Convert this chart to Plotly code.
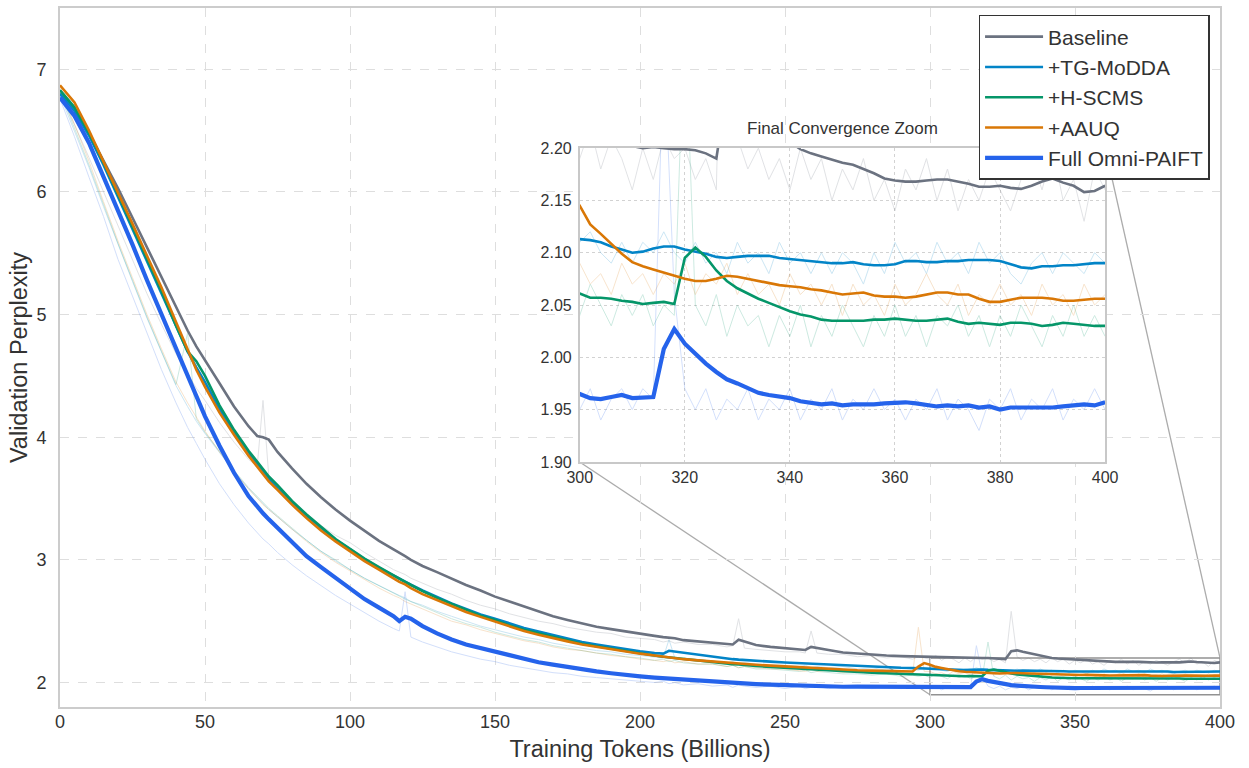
import plotly.graph_objects as go

# ---------------- data ----------------
X_MAIN = [0, 5, 10, 15, 20, 25, 30, 35, 40, 44,
          47, 50, 55, 60, 65, 68, 70, 72, 75, 80,
          85, 90, 95, 100, 105, 110, 115, 117, 119, 121,
          125, 130, 135, 140, 145, 150, 155, 160, 165, 170,
          175, 180, 185, 190, 195, 200, 205, 208, 210, 212,
          215, 220, 225, 230, 232, 234, 236, 240, 245, 250,
          255, 257, 259, 261, 265, 270, 275, 280, 285, 290,
          294, 296, 298]
X_ZOOM = [300, 302, 304, 306, 308, 310, 312, 314, 316, 318,
          320, 322, 324, 326, 328, 330, 332, 334, 336, 338,
          340, 342, 344, 346, 348, 350, 352, 354, 356, 358,
          360, 362, 364, 366, 368, 370, 372, 374, 376, 378,
          380, 382, 384, 386, 388, 390, 392, 394, 396, 398,
          400]

SERIES_NAMES = ["Baseline", "+TG-MoDDA", "+H-SCMS", "+AAUQ", "Full Omni-PAIFT"]

# smoothed curves (main range)
BASE_SMOOTH_MAIN = [6.80, 6.68, 6.48, 6.26, 6.03, 5.79, 5.55, 5.30, 5.06, 4.87,
                    4.74, 4.63, 4.44, 4.25, 4.09, 4.01, 4.00, 3.98, 3.88, 3.745,
                    3.62, 3.51, 3.41, 3.32, 3.235, 3.155, 3.085, 3.06, 3.03, 3.00,
                    2.95, 2.90, 2.845, 2.795, 2.75, 2.70, 2.66, 2.62, 2.575, 2.54,
                    2.51, 2.48, 2.455, 2.435, 2.415, 2.40, 2.38, 2.37, 2.365, 2.36,
                    2.345, 2.335, 2.325, 2.312, 2.31, 2.348, 2.335, 2.305, 2.29, 2.28,
                    2.265, 2.265, 2.29, 2.283, 2.265, 2.245, 2.235, 2.225, 2.22, 2.215,
                    2.212, 2.21, 2.208]
TG_SMOOTH_MAIN = [6.80, 6.66, 6.46, 6.22, 5.96, 5.70, 5.44, 5.17, 4.91, 4.70,
                  4.57, 4.45, 4.23, 4.04, 3.87, 3.78, 3.72, 3.66, 3.58, 3.465,
                  3.36, 3.26, 3.165, 3.085, 3.005, 2.935, 2.87, 2.845, 2.82, 2.797,
                  2.75, 2.695, 2.645, 2.60, 2.555, 2.52, 2.48, 2.445, 2.415, 2.385,
                  2.355, 2.33, 2.31, 2.29, 2.27, 2.255, 2.24, 2.235, 2.258, 2.252,
                  2.24, 2.222, 2.207, 2.195, 2.19, 2.186, 2.182, 2.176, 2.17, 2.163,
                  2.157, 2.155, 2.152, 2.15, 2.145, 2.14, 2.136, 2.132, 2.125, 2.12,
                  2.118, 2.116, 2.114]
HS_SMOOTH_MAIN = [6.83, 6.69, 6.48, 6.24, 5.98, 5.72, 5.46, 5.19, 4.91, 4.70,
                  4.62, 4.50, 4.26, 4.06, 3.89, 3.80, 3.74, 3.68, 3.61, 3.48,
                  3.37, 3.27, 3.17, 3.09, 3.01, 2.94, 2.87, 2.845, 2.82, 2.795,
                  2.745, 2.69, 2.64, 2.59, 2.545, 2.51, 2.465, 2.43, 2.40, 2.37,
                  2.34, 2.315, 2.295, 2.275, 2.255, 2.235, 2.22, 2.21, 2.205, 2.20,
                  2.19, 2.175, 2.165, 2.155, 2.15, 2.147, 2.145, 2.135, 2.127, 2.12,
                  2.11, 2.108, 2.105, 2.103, 2.097, 2.09, 2.085, 2.08, 2.075, 2.07,
                  2.066, 2.065, 2.063]
AA_SMOOTH_MAIN = [6.87, 6.73, 6.50, 6.25, 6.00, 5.74, 5.48, 5.22, 4.94, 4.71,
                  4.55, 4.41, 4.20, 4.02, 3.85, 3.76, 3.70, 3.64, 3.57, 3.45,
                  3.34, 3.24, 3.15, 3.07, 2.99, 2.92, 2.85, 2.82, 2.80, 2.77,
                  2.72, 2.67, 2.62, 2.575, 2.535, 2.495, 2.455, 2.42, 2.39, 2.36,
                  2.335, 2.31, 2.29, 2.27, 2.25, 2.235, 2.22, 2.21, 2.205, 2.20,
                  2.19, 2.18, 2.17, 2.16, 2.157, 2.153, 2.15, 2.145, 2.137, 2.13,
                  2.122, 2.12, 2.117, 2.115, 2.11, 2.105, 2.10, 2.097, 2.094, 2.092,
                  2.09, 2.13, 2.158]
FULL_SMOOTH_MAIN = [6.77, 6.62, 6.40, 6.13, 5.85, 5.57, 5.28, 5.00, 4.72, 4.50,
                    4.33, 4.17, 3.93, 3.71, 3.52, 3.43, 3.38, 3.33, 3.26, 3.14,
                    3.03, 2.94, 2.85, 2.76, 2.68, 2.61, 2.54, 2.50, 2.535, 2.52,
                    2.46, 2.40, 2.35, 2.31, 2.28, 2.25, 2.22, 2.19, 2.165, 2.145,
                    2.125, 2.105, 2.09, 2.075, 2.06, 2.05, 2.04, 2.035, 2.03, 2.027,
                    2.02, 2.012, 2.005, 1.998, 1.995, 1.993, 1.99, 1.987, 1.982, 1.978,
                    1.973, 1.972, 1.968, 1.967, 1.966, 1.965, 1.966, 1.965, 1.963, 1.962,
                    1.962, 1.964, 1.963]

# smoothed curves (final 100B tokens)
BASE_SMOOTH_ZOOM = [2.207, 2.205, 2.205, 2.204, 2.203, 2.202, 2.200, 2.201, 2.200, 2.199,
                    2.199, 2.198, 2.195, 2.190, 2.255, 2.262, 2.250, 2.240, 2.228, 2.217,
                    2.206, 2.199, 2.195, 2.192, 2.189, 2.186, 2.184, 2.180, 2.176, 2.171,
                    2.169, 2.168, 2.168, 2.169, 2.170, 2.170, 2.168, 2.166, 2.163, 2.163,
                    2.164, 2.162, 2.161, 2.164, 2.168, 2.171, 2.167, 2.164, 2.158, 2.159,
                    2.164]
TG_SMOOTH_ZOOM = [2.113, 2.112, 2.110, 2.106, 2.103, 2.100, 2.101, 2.104, 2.106, 2.106,
                  2.103, 2.101, 2.099, 2.096, 2.095, 2.096, 2.097, 2.097, 2.097, 2.095,
                  2.094, 2.093, 2.092, 2.091, 2.090, 2.090, 2.091, 2.089, 2.088, 2.088,
                  2.089, 2.092, 2.092, 2.091, 2.091, 2.092, 2.092, 2.093, 2.093, 2.093,
                  2.092, 2.089, 2.086, 2.085, 2.087, 2.087, 2.088, 2.088, 2.089, 2.090,
                  2.090]
HS_SMOOTH_ZOOM = [2.061, 2.057, 2.057, 2.056, 2.054, 2.053, 2.051, 2.052, 2.053, 2.051,
                  2.095, 2.105, 2.096, 2.083, 2.073, 2.066, 2.061, 2.056, 2.052, 2.048,
                  2.044, 2.041, 2.039, 2.036, 2.035, 2.035, 2.035, 2.035, 2.036, 2.036,
                  2.037, 2.036, 2.035, 2.035, 2.036, 2.037, 2.034, 2.032, 2.033, 2.032,
                  2.031, 2.033, 2.033, 2.032, 2.030, 2.031, 2.033, 2.032, 2.031, 2.030,
                  2.030]
AA_SMOOTH_ZOOM = [2.145, 2.127, 2.118, 2.108, 2.099, 2.091, 2.087, 2.084, 2.081, 2.078,
                  2.075, 2.073, 2.073, 2.075, 2.078, 2.077, 2.075, 2.073, 2.071, 2.069,
                  2.068, 2.067, 2.065, 2.064, 2.062, 2.060, 2.061, 2.062, 2.059, 2.058,
                  2.058, 2.057, 2.058, 2.060, 2.062, 2.062, 2.060, 2.060, 2.056, 2.053,
                  2.053, 2.055, 2.057, 2.057, 2.057, 2.056, 2.054, 2.054, 2.055, 2.056,
                  2.056]
FULL_SMOOTH_ZOOM = [1.965, 1.961, 1.960, 1.962, 1.964, 1.961, 1.962, 1.962, 2.008, 2.027,
                    2.013, 2.003, 1.994, 1.986, 1.979, 1.975, 1.970, 1.966, 1.964, 1.963,
                    1.961, 1.958, 1.957, 1.955, 1.956, 1.954, 1.955, 1.955, 1.955, 1.956,
                    1.957, 1.957, 1.956, 1.954, 1.953, 1.954, 1.953, 1.954, 1.952, 1.953,
                    1.950, 1.952, 1.952, 1.951, 1.952, 1.952, 1.953, 1.954, 1.955, 1.954,
                    1.957]

# raw (unsmoothed) curves (main range)
BASE_RAW_MAIN = [6.80, 6.55, 6.28, 6.00, 5.72, 5.44, 5.17, 4.92, 4.68, 4.52,
                 4.40, 4.30, 4.12, 3.96, 3.82, 3.76, 4.30, 3.68, 3.60, 3.48,
                 3.38, 3.28, 3.20, 3.14, 3.06, 2.99, 2.92, 2.90, 2.88, 2.85,
                 2.81, 2.76, 2.72, 2.67, 2.63, 2.60, 2.56, 2.53, 2.50, 2.48,
                 2.45, 2.43, 2.41, 2.40, 2.37, 2.36, 2.35, 2.33, 2.34, 2.32,
                 2.33, 2.31, 2.31, 2.29, 2.30, 2.52, 2.28, 2.27, 2.26, 2.25,
                 2.25, 2.24, 2.42, 2.24, 2.23, 2.23, 2.21, 2.22, 2.20, 2.21,
                 2.19, 2.21, 2.20]
TG_RAW_MAIN = [6.79, 6.50, 6.20, 5.88, 5.57, 5.27, 4.97, 4.69, 4.42, 4.25,
               4.13, 4.03, 3.87, 3.72, 3.58, 3.51, 3.46, 3.41, 3.35, 3.25,
               3.16, 3.07, 2.99, 2.92, 2.85, 2.79, 2.73, 2.71, 2.69, 2.66,
               2.63, 2.58, 2.54, 2.50, 2.46, 2.43, 2.40, 2.37, 2.35, 2.32,
               2.30, 2.28, 2.26, 2.25, 2.23, 2.22, 2.21, 2.20, 2.35, 2.20,
               2.19, 2.18, 2.17, 2.16, 2.17, 2.15, 2.16, 2.15, 2.14, 2.14,
               2.13, 2.14, 2.12, 2.13, 2.12, 2.13, 2.11, 2.12, 2.10, 2.12,
               2.11, 2.10, 2.12]
HS_RAW_MAIN = [6.82, 6.52, 6.22, 5.90, 5.58, 5.28, 4.98, 4.70, 4.43, 4.85,
               4.15, 4.04, 3.88, 3.73, 3.59, 3.52, 3.47, 3.42, 3.36, 3.26,
               3.16, 3.07, 3.00, 2.92, 2.85, 2.79, 2.73, 2.70, 2.68, 2.66,
               2.62, 2.57, 2.52, 2.48, 2.45, 2.41, 2.38, 2.35, 2.33, 2.30,
               2.28, 2.26, 2.24, 2.23, 2.21, 2.20, 2.18, 2.19, 2.17, 2.18,
               2.16, 2.15, 2.15, 2.13, 2.14, 2.12, 2.13, 2.11, 2.11, 2.10,
               2.09, 2.10, 2.08, 2.09, 2.08, 2.07, 2.07, 2.06, 2.07, 2.05,
               2.06, 2.05, 2.06]
AA_RAW_MAIN = [6.85, 6.55, 6.25, 5.92, 5.60, 5.30, 5.00, 4.72, 4.45, 4.28,
               4.16, 4.05, 3.88, 3.72, 3.58, 3.50, 3.45, 3.41, 3.35, 3.25,
               3.15, 3.06, 2.98, 2.91, 2.84, 2.77, 2.71, 2.69, 2.66, 2.64,
               2.60, 2.55, 2.50, 2.47, 2.43, 2.40, 2.37, 2.34, 2.32, 2.29,
               2.27, 2.26, 2.24, 2.22, 2.21, 2.19, 2.18, 2.17, 2.18, 2.16,
               2.17, 2.15, 2.15, 2.13, 2.14, 2.12, 2.13, 2.12, 2.11, 2.11,
               2.10, 2.09, 2.11, 2.09, 2.10, 2.08, 2.09, 2.07, 2.09, 2.08,
               2.07, 2.45, 2.09]
FULL_RAW_MAIN = [6.76, 6.45, 6.12, 5.80, 5.45, 5.15, 4.85, 4.55, 4.28, 4.08,
                 3.95, 3.82, 3.62, 3.45, 3.30, 3.22, 3.17, 3.13, 3.06, 2.96,
                 2.87, 2.79, 2.71, 2.64, 2.57, 2.50, 2.44, 2.42, 2.74, 2.37,
                 2.33, 2.29, 2.25, 2.22, 2.19, 2.17, 2.14, 2.12, 2.10, 2.08,
                 2.07, 2.05, 2.04, 2.03, 2.02, 2.01, 2.00, 2.01, 1.99, 2.00,
                 1.98, 1.99, 1.97, 1.98, 1.96, 1.98, 1.97, 1.96, 1.97, 1.95,
                 1.97, 1.95, 1.96, 1.97, 1.95, 1.97, 1.96, 1.95, 1.97, 1.95,
                 1.96, 1.97, 1.95]

# raw (unsmoothed) curves (final 100B tokens)
BASE_RAW_ZOOM = [2.19, 2.22, 2.18, 2.21, 2.19, 2.16, 2.20, 2.17, 2.21, 2.19,
                 2.20, 2.17, 2.19, 2.16, 2.58, 2.21, 2.18, 2.20, 2.17, 2.19,
                 2.16, 2.20, 2.17, 2.19, 2.15, 2.18, 2.16, 2.19, 2.15, 2.17,
                 2.14, 2.18, 2.16, 2.19, 2.15, 2.18, 2.14, 2.17, 2.15, 2.18,
                 2.16, 2.14, 2.17, 2.19, 2.16, 2.20, 2.15, 2.17, 2.13, 2.18,
                 2.16]
TG_RAW_ZOOM = [2.11, 2.12, 2.10, 2.09, 2.11, 2.09, 2.11, 2.10, 2.12, 2.10,
               2.09, 2.11, 2.09, 2.10, 2.08, 2.11, 2.09, 2.10, 2.08, 2.11,
               2.09, 2.10, 2.08, 2.10, 2.08, 2.10, 2.09, 2.07, 2.10, 2.08,
               2.11, 2.09, 2.10, 2.08, 2.11, 2.09, 2.10, 2.08, 2.11, 2.09,
               2.10, 2.08, 2.07, 2.09, 2.10, 2.08, 2.10, 2.09, 2.08, 2.10,
               2.09]
HS_RAW_ZOOM = [2.04, 2.07, 2.05, 2.03, 2.06, 2.04, 2.06, 2.03, 2.05, 2.04,
               2.33, 2.05, 2.03, 2.06, 2.02, 2.05, 2.03, 2.04, 2.01, 2.04,
               2.02, 2.05, 2.01, 2.04, 2.02, 2.05, 2.03, 2.01, 2.04, 2.02,
               2.05, 2.02, 2.04, 2.01, 2.04, 2.03, 2.05, 2.02, 2.04, 2.01,
               2.04, 2.02, 2.05, 2.03, 2.01, 2.04, 2.02, 2.05, 2.02, 2.04,
               2.02]
AA_RAW_ZOOM = [2.09, 2.07, 2.08, 2.06, 2.09, 2.07, 2.08, 2.06, 2.08, 2.07,
               2.09, 2.06, 2.08, 2.07, 2.09, 2.06, 2.08, 2.06, 2.07, 2.05,
               2.08, 2.06, 2.07, 2.05, 2.07, 2.04, 2.07, 2.05, 2.06, 2.04,
               2.07, 2.05, 2.06, 2.08, 2.06, 2.05, 2.07, 2.04, 2.06, 2.05,
               2.07, 2.05, 2.06, 2.04, 2.07, 2.05, 2.06, 2.04, 2.07, 2.05,
               2.06]
FULL_RAW_ZOOM = [1.95, 1.97, 1.94, 1.96, 1.97, 1.95, 1.97, 1.96, 2.30, 2.06,
                 1.97, 1.95, 1.97, 1.94, 1.96, 1.95, 1.97, 1.94, 1.96, 1.95,
                 1.97, 1.94, 1.96, 1.95, 1.97, 1.94, 1.96, 1.95, 1.97, 1.95,
                 1.96, 1.94, 1.96, 1.95, 1.97, 1.94, 1.96, 1.95, 1.93, 1.96,
                 1.95, 1.97, 1.94, 1.96, 1.95, 1.97, 1.94, 1.96, 1.95, 1.97,
                 1.95]

MAIN_X_TICKS = [0, 50, 100, 150, 200, 250, 300, 350, 400]
MAIN_Y_TICKS = [2, 3, 4, 5, 6, 7]
ZOOM_X_TICKS = [300, 320, 340, 360, 380, 400]
ZOOM_Y_TICKS = [1.90, 1.95, 2.00, 2.05, 2.10, 2.15, 2.20]
ZOOM_Y_LABELS = ["1.90", "1.95", "2.00", "2.05", "2.10", "2.15", "2.20"]

# ---------------- style ----------------
FONT = "Liberation Sans, Arial, sans-serif"
TXT = "#333333"
COLORS = ["#6b7280", "#0284c7", "#059669", "#d97706", "#2563eb"]
WIDTHS = [2.6, 2.6, 2.6, 2.6, 4.2]

XR = [0, 400]
YR = [1.8, 7.5]
ZX = [300, 400]
ZY = [1.90, 2.20]
INSET_DX = [0.448, 0.901]
INSET_DY = [0.3505, 0.7997]

smooth = [
    (BASE_SMOOTH_MAIN, BASE_SMOOTH_ZOOM, BASE_RAW_MAIN, BASE_RAW_ZOOM),
    (TG_SMOOTH_MAIN, TG_SMOOTH_ZOOM, TG_RAW_MAIN, TG_RAW_ZOOM),
    (HS_SMOOTH_MAIN, HS_SMOOTH_ZOOM, HS_RAW_MAIN, HS_RAW_ZOOM),
    (AA_SMOOTH_MAIN, AA_SMOOTH_ZOOM, AA_RAW_MAIN, AA_RAW_ZOOM),
    (FULL_SMOOTH_MAIN, FULL_SMOOTH_ZOOM, FULL_RAW_MAIN, FULL_RAW_ZOOM),
]

X_ALL = X_MAIN + X_ZOOM

fig = go.Figure()

# raw faint lines
for axes in [("x", "y"), ("x2", "y2")]:
    for i, (sm, sz, rm, rz) in enumerate(smooth):
        fig.add_trace(go.Scatter(
            x=X_ALL, y=rm + rz, mode="lines", xaxis=axes[0], yaxis=axes[1],
            line=dict(color=COLORS[i], width=1), opacity=0.2,
            showlegend=False, hoverinfo="skip"))

# smoothed lines
for axes in [("x", "y"), ("x2", "y2")]:
    for i, (sm, sz, rm, rz) in enumerate(smooth):
        fig.add_trace(go.Scatter(
            x=X_ALL, y=sm + sz, mode="lines", xaxis=axes[0], yaxis=axes[1],
            name=SERIES_NAMES[i], legendgroup=SERIES_NAMES[i],
            line=dict(color=COLORS[i], width=WIDTHS[i]),
            showlegend=(axes[0] == "x")))


def main_x(p):
    return XR[0] + p * (XR[1] - XR[0])


def main_y(p):
    return YR[0] + p * (YR[1] - YR[0])


shapes = [
    dict(type="rect", xref="x", yref="y", x0=ZX[0], x1=ZX[1], y0=ZY[0], y1=ZY[1],
         line=dict(color="rgba(110,110,110,0.75)", width=1.4), layer="below"),
    dict(type="line", xref="x", yref="y", x0=ZX[0], y0=ZY[0],
         x1=main_x(INSET_DX[0]), y1=main_y(INSET_DY[0]),
         line=dict(color="rgba(150,150,150,0.8)", width=1.3), layer="below"),
    dict(type="line", xref="x", yref="y", x0=ZX[1], y0=ZY[1],
         x1=main_x(INSET_DX[1]), y1=main_y(INSET_DY[1]),
         line=dict(color="rgba(150,150,150,0.8)", width=1.3), layer="below"),
]

annotations = [
    dict(text="Final Convergence Zoom", xref="paper", yref="paper",
         x=(INSET_DX[0] + INSET_DX[1]) / 2, y=INSET_DY[1], xanchor="center",
         yanchor="bottom", yshift=8, showarrow=False,
         font=dict(family=FONT, size=17, color=TXT)),
]

fig.update_layout(
    width=1249, height=768,
    margin=dict(l=60, r=29, t=8, b=61, pad=0),
    paper_bgcolor="white", plot_bgcolor="white",
    font=dict(family=FONT, color=TXT),
    shapes=shapes, annotations=annotations,
    legend=dict(x=0.991, y=0.99, xanchor="right", yanchor="top",
                bgcolor="white", bordercolor="#333333", borderwidth=1.5,
                font=dict(family=FONT, size=21, color=TXT),
                tracegroupgap=0, itemwidth=58),
    xaxis=dict(range=[XR[0] - 0.001, XR[1] + 0.001], tickvals=MAIN_X_TICKS,
               automargin=False,
               showgrid=True, gridcolor="#dedede", griddash="dash", gridwidth=1,
               zeroline=False, showline=True, linecolor="#cccccc", linewidth=2,
               mirror=True, ticks="", ticklabelstandoff=-3,
               tickfont=dict(family=FONT, size=18, color=TXT),
               title=dict(text="Training Tokens (Billions)", standoff=10,
                          font=dict(family=FONT, size=23.5, color=TXT))),
    yaxis=dict(range=YR, tickvals=MAIN_Y_TICKS,
               automargin=False,
               showgrid=True, gridcolor="#dedede", griddash="dash", gridwidth=1,
               zeroline=False, showline=True, linecolor="#cccccc", linewidth=2,
               mirror=True, ticks="", ticklabelstandoff=8,
               tickfont=dict(family=FONT, size=18, color=TXT),
               title=dict(text="Validation Perplexity", standoff=2,
                          font=dict(family=FONT, size=23.5, color=TXT))),
    xaxis2=dict(domain=INSET_DX, anchor="y2", range=[ZX[0] - 0.01, ZX[1] + 0.01],
                tickvals=ZOOM_X_TICKS, automargin=False,
                showgrid=True, gridcolor="#d2d2d2", griddash="dot", gridwidth=1,
                zeroline=False, showline=True, linecolor="#c8c8c8", linewidth=1.5,
                mirror=True, ticks="", ticklabelstandoff=0,
                tickfont=dict(family=FONT, size=16, color=TXT)),
    yaxis2=dict(domain=INSET_DY, anchor="x2", range=[ZY[0] - 0.0001, ZY[1] + 0.0001],
                tickvals=ZOOM_Y_TICKS, ticktext=ZOOM_Y_LABELS, automargin=False,
                showgrid=True, gridcolor="#d2d2d2", griddash="dot", gridwidth=1,
                zeroline=False, showline=True, linecolor="#c8c8c8", linewidth=1.5,
                mirror=True, ticks="", ticklabelstandoff=3,
                tickfont=dict(family=FONT, size=16, color=TXT)),
)

fig.write_html("out.html")
